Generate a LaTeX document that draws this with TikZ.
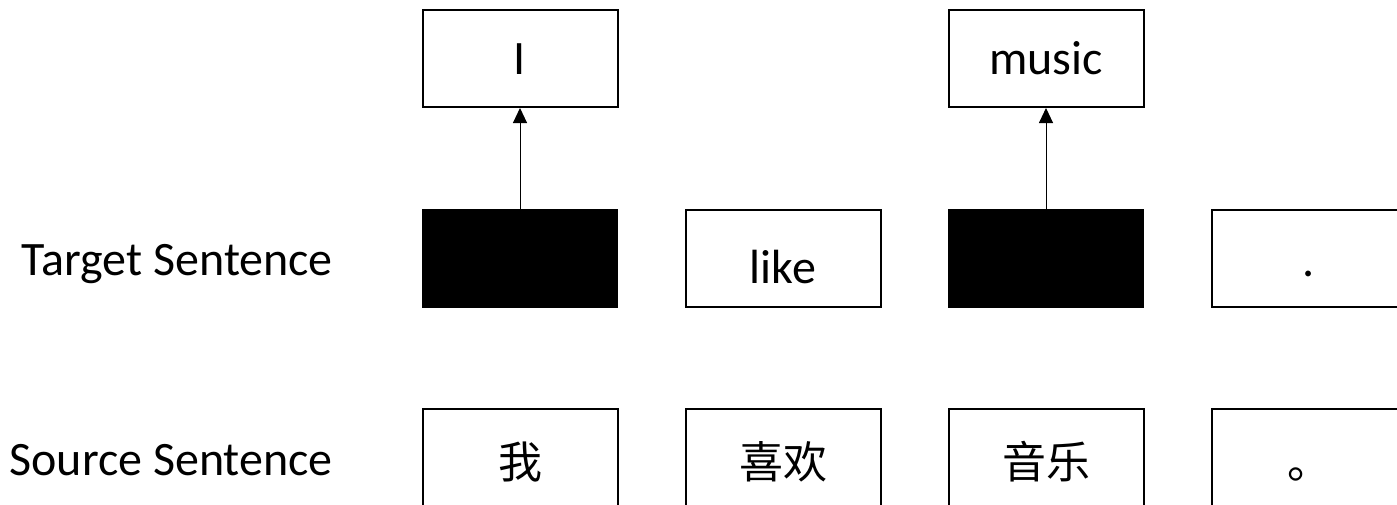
\documentclass[tikz,border=0pt]{standalone}
\usepackage{fontspec}
\setmainfont{Carlito}
\newfontfamily\cjk{Noto Sans CJK SC}
\usetikzlibrary{arrows.meta}
\tikzset{
  wbox/.style={draw=black, line width=2pt, fill=white, minimum width=195pt, minimum height=97pt, inner sep=0pt, font=\fontsize{48}{54}\selectfont},
  bbox/.style={draw=black, line width=1pt, fill=black, minimum width=195pt, minimum height=98pt, inner sep=0pt},
  cjkbox/.style={wbox, font=\fontsize{44}{50}\selectfont\cjk, text height=42pt, text depth=0pt},
  lbl/.style={anchor=base east, inner sep=0pt, font=\fontsize{48}{54}\selectfont},
  conn/.style={line width=1pt, -{Triangle[length=15pt, width=14pt]}}
}
\begin{document}
\begin{tikzpicture}[x=1pt, y=-1pt]
\useasboundingbox (0,0) rectangle (1397,504);
\clip (0,0) rectangle (1397,504);
% labels
\node[lbl] (tl) at (333,275) {Target Sentence};
\node[lbl] (sl) at (333,475) {Source Sentence};
% top row
\node[wbox, text height=31pt, text depth=0pt] (o1) at (520,58.5) {I};
\node[wbox, text height=31pt, text depth=0pt] (o3) at (1046,58.5) {music};
% target row
\node[bbox] (t1) at (520,258.5) {};
\node[wbox, text height=49pt, text depth=0pt] (t2) at (783,258.5) {like};
\node[bbox] (t3) at (1046,258.5) {};
\node[wbox, text height=35pt, text depth=0pt] (t4) at (1309,258.5) {.};
% source row
\node[cjkbox] (s1) at (520,457.5) {我};
\node[cjkbox] (s2) at (783,457.5) {喜欢};
\node[cjkbox] (s3) at (1046,457.5) {音乐};
\node[cjkbox] (s4) at (1309,457.5) {。};
% connectors
\draw[conn] (t1.north) -- (o1.south);
\draw[conn] (t3.north) -- (o3.south);
\end{tikzpicture}
\end{document}
